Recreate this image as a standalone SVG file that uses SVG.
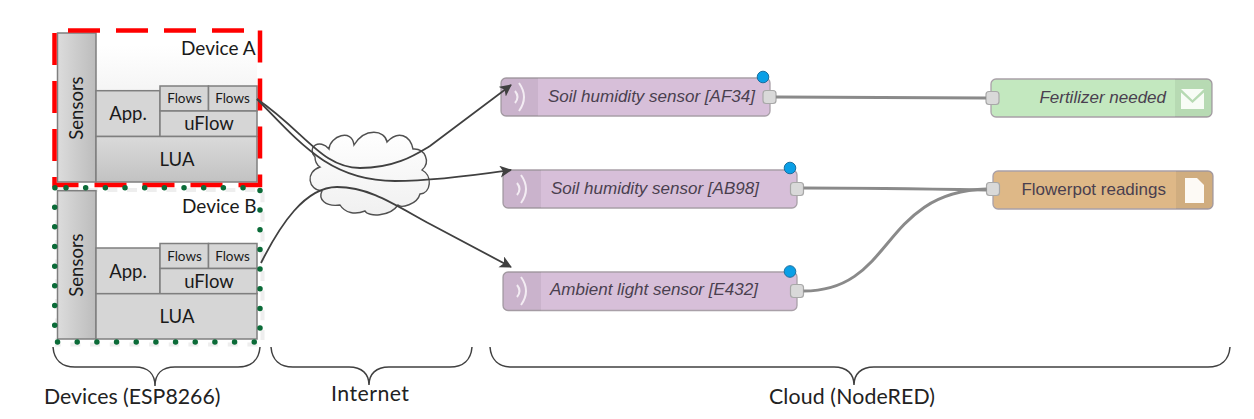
<svg xmlns="http://www.w3.org/2000/svg" width="1254" height="419" viewBox="0 0 1254 419">
<style>
.b{stroke:#7f7f7f;stroke-width:1.5}
.c{font-family:"Lato","Open Sans","DejaVu Sans",sans-serif;fill:#1a1a1a}
.flow{font-size:13.5px;text-anchor:middle}
.mid{font-size:18.5px;text-anchor:middle}
.dev{font-size:19px}
.lab{font-size:21.3px;fill:#222}
.nr{font-family:"Liberation Sans",Arial,sans-serif;font-size:17px;fill:#4a3f4f}
.it{font-style:italic}
.conn{fill:none;stroke:#404040;stroke-width:1.8}
.wire{fill:none;stroke:#8a8a8a;stroke-width:3}
.brace{fill:none;stroke:#404040;stroke-width:1.5}
.port{fill:#d9d9d9;stroke:#a8a8a8;stroke-width:1.2}
.dot{fill:#0a9fe6;stroke:#1a6f9f;stroke-width:1}
.sep{fill-opacity:.06;fill:#000}
.node{stroke:#a9a0a8;stroke-width:1.3}
.wave{fill:none;stroke:#f3ecf3;stroke-width:2}
.red{fill:none;stroke:#ff0000;stroke-width:4.5;stroke-dasharray:32 16}
.green{fill:none;stroke:#0b6b38;stroke-width:5.5;stroke-linecap:round;stroke-dasharray:0 19.67}
.ghost{fill:none;stroke:#eeeeee;stroke-width:4;stroke-dasharray:10 9.67}
</style>
<defs>
<linearGradient id="gs" x1="0" x2="1" y1="0" y2="0"><stop offset="0" stop-color="#dcdcdc"/><stop offset="1" stop-color="#bcbcbc"/></linearGradient>
<linearGradient id="gl" x1="0" x2="0" y1="0" y2="1"><stop offset="0" stop-color="#dadada"/><stop offset="1" stop-color="#c2c2c2"/></linearGradient>
<linearGradient id="gcloud" x1="0" x2="0" y1="0" y2="1"><stop offset="0" stop-color="#ffffff"/><stop offset="1" stop-color="#f0f0f0"/></linearGradient>
<linearGradient id="gbg" x1="0" x2="0" y1="0" y2="1"><stop offset="0" stop-color="#ffffff"/><stop offset="1" stop-color="#f2f2f2"/></linearGradient>
<marker id="arr" markerUnits="userSpaceOnUse" markerWidth="14" markerHeight="14" refX="11" refY="6" orient="auto"><path d="M0,0 L12,6 L0,12 L3,6 Z" fill="#404040"/></marker>
</defs>

<path class="ghost" d="M68,190 H262.500 V344.500 H57 V190 Z"/>

<g id="device-a">
<rect x="96" y="45" width="161" height="60" fill="url(#gbg)"/>
<rect class="b" x="57.5" y="33" width="38.5" height="149" fill="url(#gs)"/>
<rect class="b" x="96" y="90.7" width="64" height="45.8" fill="#d6d6d6"/>
<rect class="b" x="160" y="86" width="48.5" height="25" fill="#d6d6d6"/>
<rect class="b" x="208.500" y="86" width="48.500" height="25" fill="#d6d6d6"/>
<rect class="b" x="160" y="111" width="97" height="25.500" fill="#d6d6d6"/>
<rect class="b" x="96" y="136.500" width="161" height="45.500" fill="url(#gl)"/>
<text class="c dev" x="181" y="54.500">Device A</text>
<text class="c mid" transform="translate(83,108) rotate(-90)" x="0" y="0">Sensors</text>
<text class="c mid" x="128" y="120">App.</text>
<text class="c flow" x="184.500" y="103">Flows</text>
<text class="c flow" x="232.500" y="103">Flows</text>
<text class="c mid" x="209" y="130">uFlow</text>
<text class="c mid" x="177" y="166">LUA</text>
</g>

<g id="device-b">
<rect class="b" x="57.500" y="190.700" width="38.500" height="148.300" fill="url(#gs)"/>
<rect class="b" x="96" y="248" width="64" height="45.700" fill="#d6d6d6"/>
<rect class="b" x="160" y="243.500" width="48.500" height="25" fill="#d6d6d6"/>
<rect class="b" x="208.500" y="243.500" width="48.500" height="25" fill="#d6d6d6"/>
<rect class="b" x="160" y="268.500" width="97" height="25.200" fill="#d6d6d6"/>
<rect class="b" x="96" y="293.700" width="161" height="45.300" fill="#d6d6d6"/>
<text class="c dev" x="182" y="213">Device B</text>
<text class="c mid" transform="translate(83,265) rotate(-90)" x="0" y="0">Sensors</text>
<text class="c mid" x="128" y="278">App.</text>
<text class="c flow" x="184.500" y="261">Flows</text>
<text class="c flow" x="232.500" y="261">Flows</text>
<text class="c mid" x="209" y="288">uFlow</text>
<text class="c mid" x="177" y="323">LUA</text>
</g>

<g id="device-a-outline"><path class="red" d="M68,30.500 H260 V185 H54.500 V30.500 Z"/></g>
<g id="device-b-outline"><path class="green" d="M66,187.700 H260 V342 H54.700 V187.700 Z"/></g>

<g id="internet">
<path d="M315,157 C306,147 320,138 329,149 C330,136 352,128 354,145 C365,127 385,130 387,142 C398,130 410,135 413,149 C425,148 431,162 422,170 C433,176 431,193 420,194 C417,205 401,208 398,205 C390,217 368,217 365,211 C355,215 345,213 340,205 C325,207 318,199 322,191 C308,190 305,172 320,167 C317,165 315,161 315,157 Z" fill="url(#gcloud)" stroke="#505050" stroke-width="1.4"/>
</g>

<g id="soil-af34">
<rect class="node" x="501" y="78" width="269" height="38" rx="5" fill="#d7bfd9"/>
<path class="sep" d="M506,78 H538 V116 H506 Q501,116 501,111 V83 Q501,78 506,78 Z"/>
<path class="wave" d="M519,83 Q529,97 519,111 M515,91 Q520,97 515,103"/>
<text class="nr it" x="548" y="102">Soil humidity sensor [AF34]</text>
<rect class="port" x="763" y="90.500" width="13" height="13" rx="3"/>
<circle class="dot" cx="763" cy="77" r="5.800"/>
</g>
<g id="soil-ab98">
<rect class="node" x="503" y="170" width="294" height="38" rx="5" fill="#d7bfd9"/>
<path class="sep" d="M508,170 H541 V208 H508 Q503,208 503,203 V175 Q503,170 508,170 Z"/>
<path class="wave" d="M521,175 Q531,189 521,203 M517,183 Q522,189 517,195"/>
<text class="nr it" x="551" y="194">Soil humidity sensor [AB98]</text>
<rect class="port" x="790.500" y="182.500" width="13" height="13" rx="3"/>
<circle class="dot" cx="790" cy="168" r="5.800"/>
</g>
<g id="ambient-e432">
<rect class="node" x="503" y="272" width="294" height="38.500" rx="5" fill="#d7bfd9"/>
<path class="sep" d="M508,272 H541 V310.500 H508 Q503,310.500 503,305.500 V277 Q503,272 508,272 Z"/>
<path class="wave" d="M521,277 Q531,291 521,305 M517,285 Q522,291 517,297"/>
<text class="nr it" x="550" y="295">Ambient light sensor [E432]</text>
<rect class="port" x="790.500" y="284.500" width="13" height="13" rx="3"/>
<circle class="dot" cx="790" cy="271.500" r="5.800"/>
</g>
<g id="fertilizer">
<rect class="node" x="991" y="79" width="221" height="38" rx="5" fill="#c3e8bf"/>
<path class="sep" d="M1175,79 H1207 Q1212,79 1212,84 V112 Q1212,117 1207,117 H1175 Z"/>
<path d="M1181,89 H1204 L1192.500,100 Z M1181,92.500 L1192.500,103 L1204,92.500 V109 H1181 Z" fill="#f8fcf6"/>
<text class="nr it" x="1166" y="103" text-anchor="end">Fertilizer needed</text>
<rect class="port" x="986" y="91.500" width="13" height="13" rx="3"/>
</g>
<g id="flowerpot">
<rect class="node" x="993" y="171" width="220" height="38" rx="5" fill="#deb887"/>
<path class="sep" d="M1176,171 H1208 Q1213,171 1213,176 V204 Q1213,209 1208,209 H1176 Z"/>
<path d="M1185,178 H1197 L1204,185 V203 H1185 Z" fill="#fdfaf5"/>
<text class="nr" x="1166" y="195" text-anchor="end">Flowerpot readings</text>
<rect class="port" x="986.500" y="182.500" width="13" height="13" rx="3"/>
</g>

<g id="connectors">
<path class="conn" d="M257,99 C305,132 322,168 360,168 C395,168 415,155 430,146 L511,85" marker-end="url(#arr)"/>
<path class="conn" d="M257,99 C300,143 330,181 395,181 C430,181 470,176 511,170" marker-end="url(#arr)"/>
<path class="conn" d="M261,263 C280,225 305,187 337,187 C370,187 395,205 430,224 L511,267" marker-end="url(#arr)"/>
<path class="wire" d="M776,97 C850,97 920,98 986,98"/>
<path class="wire" d="M803.500,188 C860,188 930,189 986.500,190"/>
<path class="wire" d="M803.500,291 C895,291 880,192 986.500,189"/>
</g>

<g id="braces">
<path class="brace" d="M53,347 C54,360 62,367 75,367 H135 C148,367 155,374 155,386 C155,374 162,367 175,367 H238 C251,367 259,360 260,347"/>
<path class="brace" d="M271,347 C272,360 280,367 293,367 H349 C362,367 369,374 369,385 C369,374 376,367 389,367 H450 C463,367 471,360 472,347"/>
<path class="brace" d="M490,347 C491,360 499,367 512,367 H834 C847,367 854,374 854,385 C854,374 861,367 874,367 H1208 C1221,367 1229,360 1230,347"/>
</g>
<g id="labels">
<text class="c lab" x="44" y="404">Devices (ESP8266)</text>
<text class="c lab" x="331" y="401" textLength="78">Internet</text>
<text class="c lab" x="769" y="404" textLength="166">Cloud (NodeRED)</text>
</g>
</svg>
